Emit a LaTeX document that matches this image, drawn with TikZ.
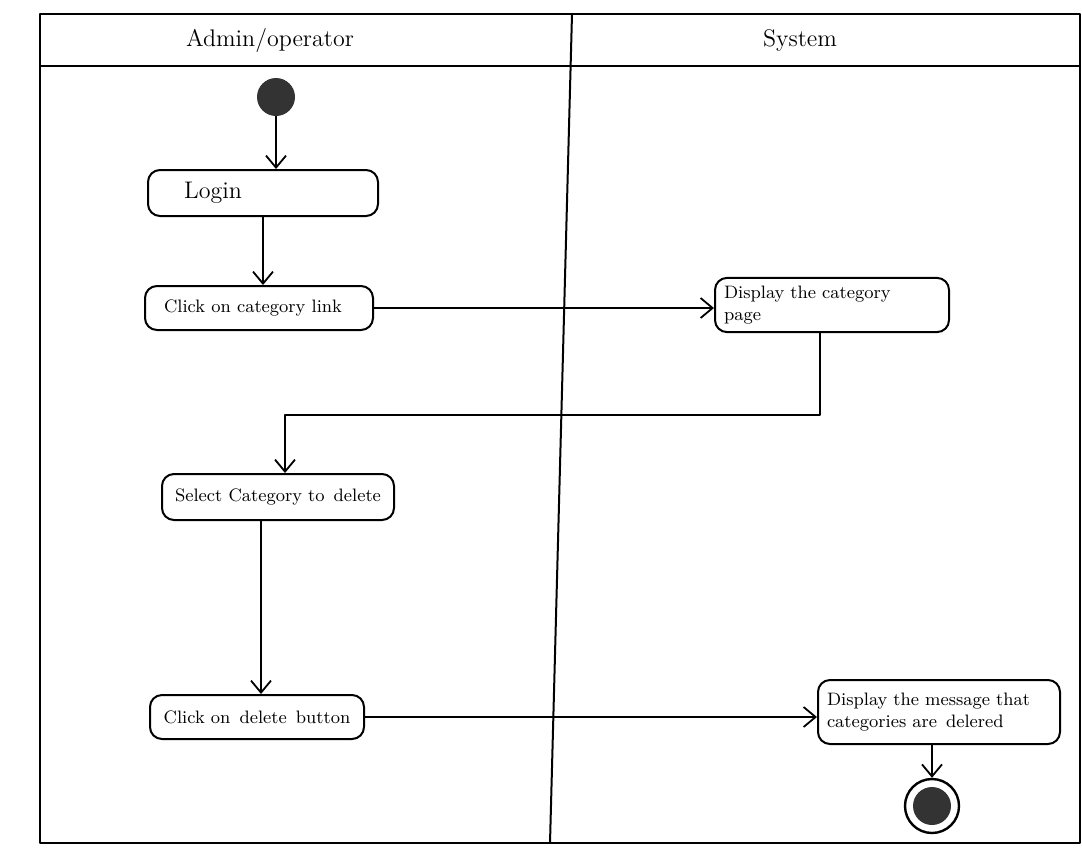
\documentclass[tikz,border=0pt]{standalone}
\usepackage{tikz}
\usetikzlibrary{arrows.meta, positioning, calc, shapes}

\begin{document}
\begin{tikzpicture}[x=0.5pt, y=-0.5pt, >={Straight Barb[length=6pt,width=10pt]}, line join=bevel,
    act/.style={draw, rounded corners=6pt, line width=1pt, inner sep=4pt},
    flow/.style={->, line width=0.9pt}]
        \useasboundingbox (0,0) rectangle (1082,848);
        % swimlanes
        \draw[line width=1.3pt] (40,14) rectangle (1080,843);
        \draw[line width=1.3pt] (40,66) -- (1080,66);
        \draw[line width=1pt] (572,14) -- (550,843);
        \node (laneA) at (270,40) {\large Admin/operator};
        \node (laneS) at (800,40) {\large System};

        % activities
        \node[circle, fill=black!80, minimum size=19pt, inner sep=0pt] (start) at (276,97) {};
        \node[act, minimum width=115pt, minimum height=23pt] (login) at (263,193) {\large\hspace*{-50pt}Login};
        \node[act, minimum width=114pt, minimum height=22pt, align=left] (catlink) at (259,308) {\small Click on category link\hspace*{6pt}};
        \node[act, minimum width=117pt, minimum height=27pt, text width=108pt, align=left, font=\small] (dispcat) at (832,305) {Display the category\\page};
        \node[act, minimum width=116pt, minimum height=23pt] (select) at (278,497) {\small Select Category to\enspace delete};
        \node[act, minimum width=107pt, minimum height=22pt] (delbtn) at (257,717) {\small Click on\enspace delete\enspace button};
        \node[act, minimum width=121pt, minimum height=32pt, text width=112pt, align=left, font=\small] (dispmsg) at (939,712) {Display the message that\\categories are\enspace delered\\[2pt]};
        \node[circle, draw, line width=1.2pt, minimum size=27pt, inner sep=0pt] (finish) at (932,806) {};
        \node[circle, fill=black!80, minimum size=19pt, inner sep=0pt] (finishdot) at (finish) {};

        % flows
        \coordinate (turn) at (285,415);
        \draw[flow] (start) -- (start |- login.north);
        \draw[flow] (login) -- (login |- catlink.north);
        \draw[flow] (catlink.east) -- (catlink.east -| dispcat.west);
        \draw[flow] ([xshift=-6pt]dispcat.south) |- (turn) -- (turn |- select.north);
        \draw[flow] ([xshift=2pt]delbtn.north |- select.south) -- ([xshift=2pt]delbtn.north);
        \draw[flow] (delbtn.east) -- (delbtn.east -| dispmsg.west);
        \draw[flow] (dispmsg.south -| finish) -- (finish.north);
      \end{tikzpicture}
\end{document}
